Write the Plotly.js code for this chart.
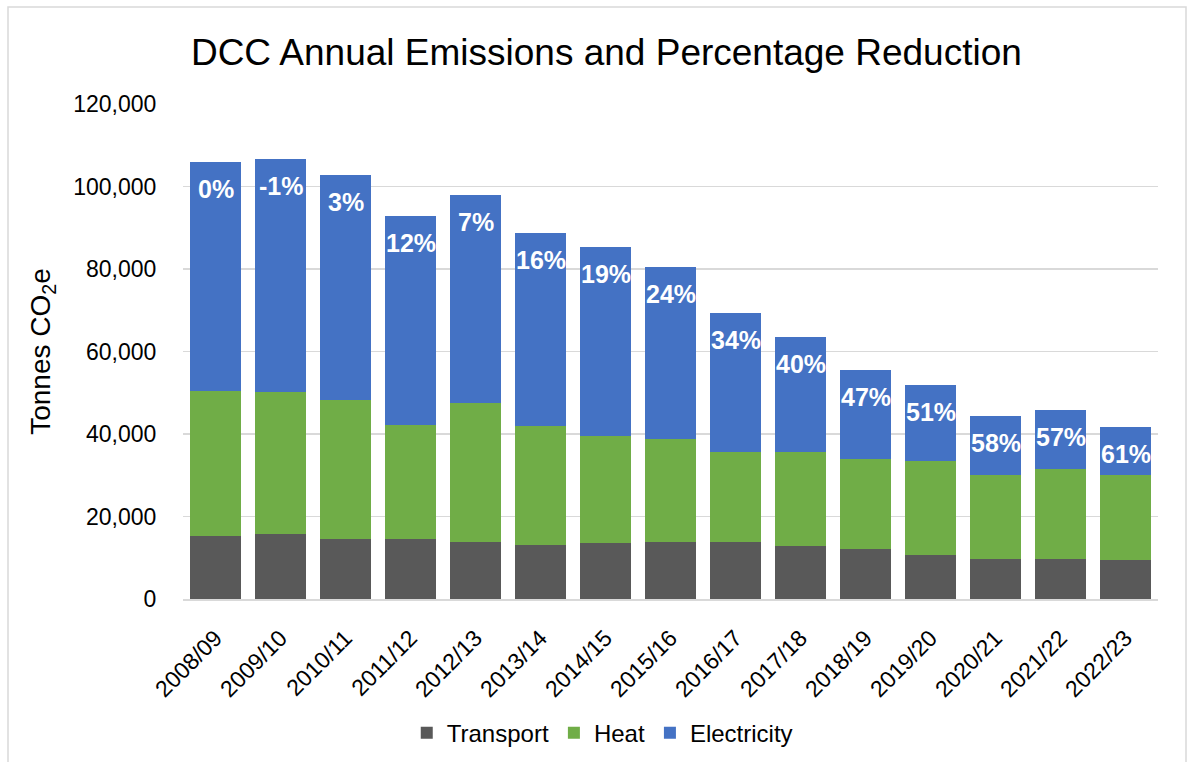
<!DOCTYPE html>
<html>
<head>
<meta charset="utf-8">
<script src="https://cdn.plot.ly/plotly-3.0.1.min.js"></script>
<style>html,body{margin:0;padding:0;background:#fff;}#chart{width:1189px;height:762px;}</style>
</head>
<body>
<div id="chart"></div>
<script>
const years = ["2008/09","2009/10","2010/11","2011/12","2012/13","2013/14","2014/15","2015/16","2016/17","2017/18","2018/19","2019/20","2020/21","2021/22","2022/23"];
const transport = [15300,15800,14500,14500,13700,13200,13500,13900,13900,12900,12200,10700,9800,9800,9400];
const heat = [35100,34300,33700,27600,33700,28800,25900,24800,21700,22700,21700,22800,20300,21800,20700];
const electricity = [55500,56600,54600,50700,50500,46800,45900,41800,33800,27900,21600,18300,14200,14100,11700];
const reductionLabels = ["0%","-1%","3%","12%","7%","16%","19%","24%","34%","40%","47%","51%","58%","57%","61%"];

const font = "Liberation Sans, Arial, sans-serif";
const totals = years.map((_, i) => transport[i] + heat[i] + electricity[i]);

const traces = [
  {type:"bar", name:"Transport", x:years, y:transport, marker:{color:"#595959"}, hoverinfo:"none"},
  {type:"bar", name:"Heat", x:years, y:heat, marker:{color:"#70AD47"}, hoverinfo:"none"},
  {type:"bar", name:"Electricity", x:years, y:electricity, marker:{color:"#4472C4"}, hoverinfo:"none"}
];

const annotations = years.map((yr, i) => ({
  x: yr, y: totals[i], xref:"x", yref:"y", yanchor:"top", xanchor:"center",
  yshift:-11, text:"<b>"+reductionLabels[i]+"</b>", showarrow:false,
  font:{family:font, size:25, color:"#ffffff"}
}));

const layout = {
  width:1189, height:762,
  margin:{l:183, r:31, t:104, b:163, autoexpand:false},
  paper_bgcolor:"#ffffff", plot_bgcolor:"#ffffff",
  barmode:"stack", bargap:0.23,
  title:{text:"DCC Annual Emissions and Percentage Reduction", x:0.51, xanchor:"center", y:0.932, yanchor:"middle",
         font:{family:font, size:37, color:"#000000"}},
  xaxis:{type:"category", tickangle:-45, tickfont:{family:font, size:23, color:"#000"},
         showgrid:false, showline:true, linecolor:"#d9d9d9", linewidth:1.5,
         ticks:"outside", ticklen:15, tickcolor:"rgba(0,0,0,0)", automargin:false},
  yaxis:{range:[0,120000], dtick:20000, tickformat:",d", tickfont:{family:font, size:23, color:"#000"},
         gridcolor:"#d9d9d9", gridwidth:1.5, zeroline:false, showline:false,
         ticks:"outside", ticklen:21, tickcolor:"rgba(0,0,0,0)", automargin:false,
         title:{text:"Tonnes CO<sub>2</sub>e", font:{family:font, size:28, color:"#000"}, standoff:14}},
  legend:{orientation:"h", x:0.43, xanchor:"center", y:-0.271, yanchor:"middle",
          font:{family:font, size:24, color:"#000"}, traceorder:"normal", itemwidth:30},
  showlegend:true,
  annotations: annotations,
  shapes:[{type:"rect", xref:"paper", yref:"paper", x0:(8-183)/975, x1:(1186-183)/975,
           y0:(599-775)/495, y1:(599-7)/495, line:{color:"#d9d9d9", width:1.5}, fillcolor:"rgba(0,0,0,0)", layer:"below"}]
};

Plotly.newPlot("chart", traces, layout, {staticPlot:true, displayModeBar:false});
</script>
</body>
</html>
